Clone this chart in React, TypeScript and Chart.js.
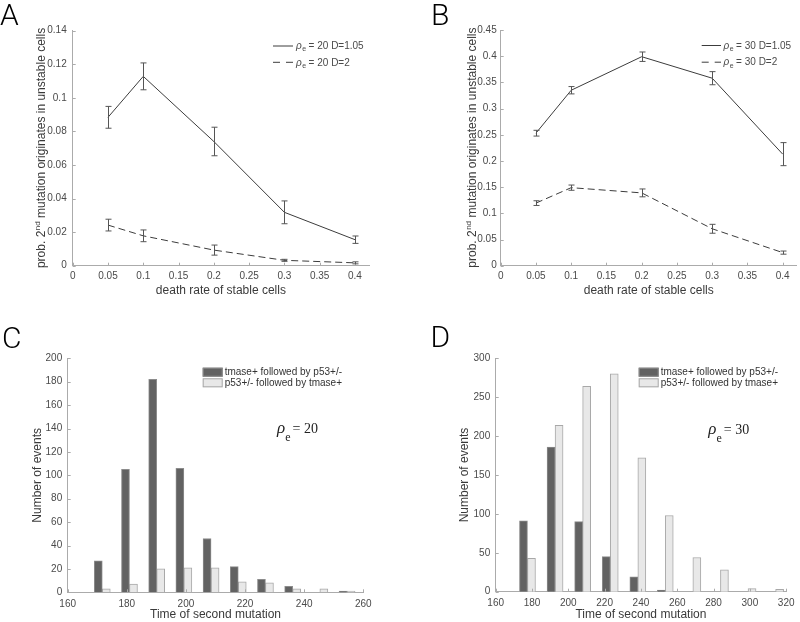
import React, { useEffect, useRef } from "react";
import { Chart, registerables } from "chart.js";

Chart.register(...registerables);

// ---------------- data ----------------
const deathRates = [0.05, 0.1, 0.2, 0.3, 0.4];
const xTicksAB = [0, 0.05, 0.1, 0.15, 0.2, 0.25, 0.3, 0.35, 0.4];
const yTicksA = [0, 0.02, 0.04, 0.06, 0.08, 0.1, 0.12, 0.14];
const yTicksB = [0, 0.05, 0.1, 0.15, 0.2, 0.25, 0.3, 0.35, 0.4, 0.45];

const probA_D105 = [0.0884, 0.1128, 0.074, 0.0318, 0.0155];
const errA_D105 = [0.0065, 0.008, 0.0085, 0.0068, 0.0022];
const probA_D2 = [0.0242, 0.0178, 0.0093, 0.0032, 0.0017];
const errA_D2 = [0.0035, 0.0035, 0.003, 0.0006, 0.0006];

const probB_D105 = [0.253, 0.335, 0.399, 0.358, 0.213];
const errB_D105 = [0.0055, 0.007, 0.009, 0.0125, 0.022];
const probB_D2 = [0.1195, 0.149, 0.139, 0.0705, 0.025];
const errB_D2 = [0.0045, 0.005, 0.0075, 0.0085, 0.003];

const binsC = [171.7, 180.9, 190.1, 199.3, 208.5, 217.7, 226.9, 236.1, 245.3, 254.5];
const tmaseFirstC = [27, 105, 182, 106, 46, 22, 11, 5, 0, 1];
const p53FirstC = [3, 7, 20, 21, 21, 9, 8, 3, 3, 1];
const xTicksC = [160, 180, 200, 220, 240, 260];
const yTicksC = [0, 20, 40, 60, 80, 100, 120, 140, 160, 180, 200];

const binsD = [177.5, 192.7, 207.9, 223.1, 238.3, 253.4, 268.6, 283.8, 299.0, 314.2];
const tmaseFirstD = [91, 186, 90, 45, 19, 2, 0, 0, 0, 0];
const p53FirstD = [43, 214, 264, 280, 172, 98, 44, 28, 4, 3];
const xTicksD = [160, 180, 200, 220, 240, 260, 280, 300, 320];
const yTicksD = [0, 50, 100, 150, 200, 250, 300];

const legendAB_A = ["20", "20"];
const legendAB_B = ["30", "30"];
const legendD = ["D=1.05", "D=2"];
const barLegend = ["tmase+ followed by p53+/-", "p53+/- followed by tmase+"];

// ---------------- styles ----------------
const SANS = "'Liberation Sans', Arial, Helvetica, sans-serif";
const SERIF = "'Liberation Serif', 'Times New Roman', serif";
const AXIS = "#ababab";
const TICK = "#4a4a4a";
const TITLE = "#3a3a3a";
const LINE = "#3c3c3c";
const ERR = "#555555";
const DARK = "#626262";
const DARK_EDGE = "#8c8c8c";
const LIGHT = "#e8e8e8";
const LIGHT_EDGE = "#a8a8a8";

const fmt = (v: number) => String(Number(Number(v).toFixed(4)));

type Decor = {
  letter: { text: string; x: number; y: number };
  errorBars?: { xs: number[]; ys: number[]; errs: number[] }[];
  lineLegend?: { x1: number; x2: number; tx: number; rows: { y: number; dash: number[]; rho: string; tail: string }[] };
  barLegend?: { bx: number; tx: number; rows: { y: number; fill: string; edge: string; text: string }[] };
  rho?: { x: number; y: number; value: string };
  richYTitle?: { x: number };
};

function makeDecor(d: Decor) {
  return {
    id: "decor",
    afterDraw(chart: any) {
      const ctx: CanvasRenderingContext2D = chart.ctx;
      const xs = chart.scales.x;
      const ys = chart.scales.y;
      const area = chart.chartArea;
      ctx.save();
      // inward tick marks
      ctx.strokeStyle = AXIS;
      ctx.lineWidth = 1;
      ctx.beginPath();
      for (const t of xs.ticks) {
        const px = Math.round(xs.getPixelForValue(t.value)) + 0.5;
        ctx.moveTo(px, area.bottom);
        ctx.lineTo(px, area.bottom - 3);
      }
      for (const t of ys.ticks) {
        const py = Math.round(ys.getPixelForValue(t.value)) + 0.5;
        ctx.moveTo(area.left, py);
        ctx.lineTo(area.left + 3, py);
      }
      ctx.stroke();

      // error bars
      if (d.errorBars) {
        ctx.strokeStyle = ERR;
        ctx.lineWidth = 1;
        ctx.setLineDash([]);
        for (const set of d.errorBars) {
          set.xs.forEach((xv, i) => {
            const px = Math.round(xs.getPixelForValue(xv)) + 0.5;
            const yTop = ys.getPixelForValue(set.ys[i] + set.errs[i]);
            const yBot = ys.getPixelForValue(set.ys[i] - set.errs[i]);
            ctx.beginPath();
            ctx.moveTo(px, yTop);
            ctx.lineTo(px, yBot);
            ctx.moveTo(px - 3, yTop);
            ctx.lineTo(px + 3, yTop);
            ctx.moveTo(px - 3, yBot);
            ctx.lineTo(px + 3, yBot);
            ctx.stroke();
          });
        }
      }

      // line legend
      if (d.lineLegend) {
        const L = d.lineLegend;
        for (const r of L.rows) {
          ctx.strokeStyle = LINE;
          ctx.lineWidth = 1;
          ctx.setLineDash(r.dash);
          ctx.beginPath();
          ctx.moveTo(L.x1, r.y + 0.5);
          ctx.lineTo(L.x2, r.y + 0.5);
          ctx.stroke();
          ctx.setLineDash([]);
          ctx.fillStyle = TICK;
          ctx.textBaseline = "middle";
          ctx.textAlign = "left";
          ctx.font = "italic 10px " + SANS;
          ctx.fillText("\u03c1", L.tx, r.y + 1);
          let x = L.tx + ctx.measureText("\u03c1").width + 0.5;
          ctx.font = "7px " + SANS;
          ctx.fillText("e", x, r.y + 4);
          x += ctx.measureText("e").width + 2.5;
          ctx.font = "10px " + SANS;
          ctx.fillText("= " + r.rho + " " + r.tail, x, r.y + 1);
        }
      }

      // bar legend
      if (d.barLegend) {
        const B = d.barLegend;
        for (const r of B.rows) {
          ctx.fillStyle = r.fill;
          ctx.fillRect(B.bx, r.y, 20, 9);
          ctx.strokeStyle = r.edge;
          ctx.lineWidth = 1;
          ctx.strokeRect(B.bx + 0.5, r.y + 0.5, 19, 8);
          ctx.fillStyle = "#333";
          ctx.font = "10px " + SANS;
          ctx.textBaseline = "middle";
          ctx.textAlign = "left";
          ctx.fillText(r.text, B.tx, r.y + 5);
        }
      }

      // rho annotation
      if (d.rho) {
        const R = d.rho;
        ctx.fillStyle = "#222";
        ctx.textBaseline = "alphabetic";
        ctx.textAlign = "left";
        ctx.font = "italic 17px " + SERIF;
        ctx.fillText("\u03c1", R.x, R.y);
        let x = R.x + ctx.measureText("\u03c1").width;
        ctx.font = "12px " + SERIF;
        ctx.fillText("e", x, R.y + 8);
        x += ctx.measureText("e").width + 2;
        ctx.font = "14px " + SERIF;
        ctx.fillText("= " + R.value, x, R.y);
      }

      // rich y title with superscript
      if (d.richYTitle) {
        const cy = (area.top + area.bottom) / 2;
        ctx.save();
        ctx.translate(d.richYTitle.x, cy);
        ctx.rotate(-Math.PI / 2);
        ctx.fillStyle = TITLE;
        ctx.textBaseline = "alphabetic";
        ctx.textAlign = "left";
        const p1 = "prob. 2";
        const sup = "nd";
        const p2 = " mutation originates in unstable cells";
        ctx.font = "12px " + SANS;
        const w1 = ctx.measureText(p1).width;
        const w2 = ctx.measureText(p2).width;
        ctx.font = "8px " + SANS;
        const ws = ctx.measureText(sup).width;
        let x0 = -(w1 + ws + w2) / 2;
        ctx.font = "12px " + SANS;
        ctx.fillText(p1, x0, 0);
        ctx.font = "8px " + SANS;
        ctx.fillText(sup, x0 + w1 + 0.5, -5);
        ctx.font = "12px " + SANS;
        ctx.fillText(p2, x0 + w1 + ws + 0.5, 0);
        ctx.restore();
      }

      // panel letter
      ctx.fillStyle = "#000";
      ctx.textBaseline = "alphabetic";
      ctx.textAlign = "left";
      ctx.font = "300 30px Roboto, " + SANS;
      ctx.fillText(d.letter.text, d.letter.x, d.letter.y);
      ctx.restore();
    },
  };
}

type Geo = { padTop: number; padRight: number; yWidth: number; xHeight: number };

function axisScales(opts: {
  geo: Geo;
  xMin: number;
  xMax: number;
  xTicks: number[];
  yMax: number;
  yTicks: number[];
  xTitle: string;
  xTitlePad: number;
  xTickPad: number;
  yTickPad: number;
  yTitle?: string;
  yTitlePad?: number;
}) {
  const o = opts;
  return {
    x: {
      type: "linear",
      min: o.xMin,
      max: o.xMax,
      offset: false,
      grid: { display: false, drawTicks: false, tickLength: 0 },
      border: { display: true, color: AXIS, width: 1 },
      ticks: {
        autoSkip: false,
        maxRotation: 0,
        padding: o.xTickPad,
        color: TICK,
        font: { family: SANS, size: 10 },
        callback: (v: number) => fmt(v),
      },
      afterBuildTicks: (s: any) => {
        s.ticks = o.xTicks.map((value) => ({ value }));
      },
      afterFit: (s: any) => {
        s.height = o.geo.xHeight;
      },
      title: {
        display: true,
        text: o.xTitle,
        color: TITLE,
        font: { family: SANS, size: 12 },
        padding: { top: 0, bottom: o.xTitlePad },
      },
    },
    y: {
      type: "linear",
      min: 0,
      max: o.yMax,
      grid: { display: false, drawTicks: false, tickLength: 0 },
      border: { display: true, color: AXIS, width: 1 },
      ticks: {
        autoSkip: false,
        padding: o.yTickPad,
        color: TICK,
        font: { family: SANS, size: 10 },
        callback: (v: number) => fmt(v),
      },
      afterBuildTicks: (s: any) => {
        s.ticks = o.yTicks.map((value) => ({ value }));
      },
      afterFit: (s: any) => {
        s.width = o.geo.yWidth;
      },
      title: o.yTitle
        ? {
            display: true,
            text: o.yTitle,
            color: TITLE,
            font: { family: SANS, size: 12 },
            padding: { top: o.yTitlePad ?? 0, bottom: 0 },
          }
        : { display: false },
    },
  };
}

function baseOptions(geo: Geo, scales: any) {
  return {
    responsive: false,
    animation: false,
    devicePixelRatio: 1,
    layout: { padding: { left: 0, top: geo.padTop, right: geo.padRight, bottom: 0 } },
    plugins: { legend: { display: false }, tooltip: { enabled: false } },
    scales,
  };
}

function lineConfig(
  letter: Decor["letter"],
  geo: Geo,
  solid: number[],
  solidErr: number[],
  dashed: number[],
  dashedErr: number[],
  yMax: number,
  yTicks: number[],
  rhoVals: string[],
  legendPos: { x1: number; x2: number; tx: number; y1: number; y2: number },
  yTitleX: number,
  yTickPad: number
) {
  const scales = axisScales({
    geo,
    xMin: 0,
    xMax: 0.42,
    xTicks: xTicksAB,
    yMax,
    yTicks,
    xTitle: "death rate of stable cells",
    xTitlePad: 11.8,
    xTickPad: 5,
    yTickPad,
  });
  return {
    type: "line",
    data: {
      datasets: [
        {
          label: "D=1.05",
          data: deathRates.map((x, i) => ({ x, y: solid[i] })),
          borderColor: LINE,
          borderWidth: 1,
          pointRadius: 0,
          fill: false,
          tension: 0,
        },
        {
          label: "D=2",
          data: deathRates.map((x, i) => ({ x, y: dashed[i] })),
          borderColor: LINE,
          borderWidth: 1,
          borderDash: [7, 4],
          pointRadius: 0,
          fill: false,
          tension: 0,
        },
      ],
    },
    options: baseOptions(geo, scales),
    plugins: [
      makeDecor({
        letter,
        errorBars: [
          { xs: deathRates, ys: solid, errs: solidErr },
          { xs: deathRates, ys: dashed, errs: dashedErr },
        ],
        lineLegend: {
          x1: legendPos.x1,
          x2: legendPos.x2,
          tx: legendPos.tx,
          rows: [
            { y: legendPos.y1, dash: [], rho: rhoVals[0], tail: legendD[0] },
            { y: legendPos.y2, dash: [7, 6], rho: rhoVals[1], tail: legendD[1] },
          ],
        },
        richYTitle: { x: yTitleX },
      }),
    ],
  };
}

function barConfig(
  letter: Decor["letter"],
  geo: Geo,
  bins: number[],
  dark: number[],
  light: number[],
  xMax: number,
  xTicks: number[],
  yMax: number,
  yTicks: number[],
  thickness: number,
  legendX: number,
  rho: { x: number; y: number; value: string },
  yTitlePad: number
) {
  const scales = axisScales({
    geo,
    xMin: 160,
    xMax,
    xTicks,
    yMax,
    yTicks,
    xTitle: "Time of second mutation",
    xTitlePad: 0,
    xTickPad: 5.5,
    yTickPad: 5.5,
    yTitle: "Number of events",
    yTitlePad,
  });
  return {
    type: "bar",
    data: {
      datasets: [
        {
          label: barLegend[0],
          data: bins.map((x, i) => ({ x, y: dark[i] })),
          backgroundColor: DARK,
          borderColor: DARK_EDGE,
          borderWidth: 1,
          barThickness: thickness,
          borderSkipped: "bottom",
        },
        {
          label: barLegend[1],
          data: bins.map((x, i) => ({ x, y: light[i] })),
          backgroundColor: LIGHT,
          borderColor: LIGHT_EDGE,
          borderWidth: 1,
          barThickness: thickness,
          borderSkipped: "bottom",
        },
      ],
    },
    options: baseOptions(geo, scales),
    plugins: [
      makeDecor({
        letter,
        barLegend: {
          bx: legendX,
          tx: legendX + 22,
          rows: [
            { y: 57.7, fill: DARK, edge: DARK_EDGE, text: barLegend[0] },
            { y: 68.3, fill: LIGHT, edge: LIGHT_EDGE, text: barLegend[1] },
          ],
        },
        rho,
      }),
    ],
  };
}

function Panel(props: { left: number; top: number; width: number; height: number; make: () => any }) {
  const ref = useRef<HTMLCanvasElement | null>(null);
  useEffect(() => {
    if (!ref.current) return;
    const chart = new Chart(ref.current, props.make());
    return () => chart.destroy();
  }, []);
  return (
    <canvas
      ref={ref}
      width={props.width}
      height={props.height}
      style={{ position: "absolute", left: props.left, top: props.top, width: props.width, height: props.height }}
    />
  );
}

export default function App() {
  return (
    <div style={{ position: "fixed", left: 0, top: 0, width: 800, height: 622, background: "#fff", overflow: "hidden" }}>
      <Panel
        left={0}
        top={0}
        width={400}
        height={310}
        make={() =>
          lineConfig(
            { text: "A", x: 0, y: 25 },
            { padTop: 30.7, padRight: 30.9, yWidth: 72.7, xHeight: 44.3 },
            probA_D105,
            errA_D105,
            probA_D2,
            errA_D2,
            0.14,
            yTicksA,
            legendAB_A,
            { x1: 273, x2: 293, tx: 296, y1: 45.5, y2: 61.8 },
            45,
            6
          )
        }
      />
      <Panel
        left={400}
        top={0}
        width={400}
        height={310}
        make={() =>
          lineConfig(
            { text: "B", x: 31, y: 25 },
            { padTop: 30, padRight: 3.2, yWidth: 100.7, xHeight: 44.3 },
            probB_D105,
            errB_D105,
            probB_D2,
            errB_D2,
            0.45,
            yTicksB,
            legendAB_B,
            { x1: 301.7, x2: 321, tx: 323.5, y1: 45, y2: 61.7 },
            76,
            4
          )
        }
      />
      <Panel
        left={0}
        top={310}
        width={400}
        height={312}
        make={() =>
          barConfig(
            { text: "C", x: 2, y: 38 },
            { padTop: 48.3, padRight: 36.7, yWidth: 67.7, xHeight: 29.7 },
            binsC,
            tmaseFirstC,
            p53FirstC,
            260,
            xTicksC,
            200,
            yTicksC,
            8,
            202.7,
            { x: 277, y: 123, value: "20" },
            30.5
          )
        }
      />
      <Panel
        left={400}
        top={310}
        width={400}
        height={312}
        make={() =>
          barConfig(
            { text: "D", x: 30.5, y: 36.7 },
            { padTop: 48.3, padRight: 8.3, yWidth: 95.7, xHeight: 30.3 },
            binsD,
            tmaseFirstD,
            p53FirstD,
            320,
            xTicksD,
            300,
            yTicksD,
            8,
            238.7,
            { x: 308.3, y: 124, value: "30" },
            57.8
          )
        }
      />
    </div>
  );
}
